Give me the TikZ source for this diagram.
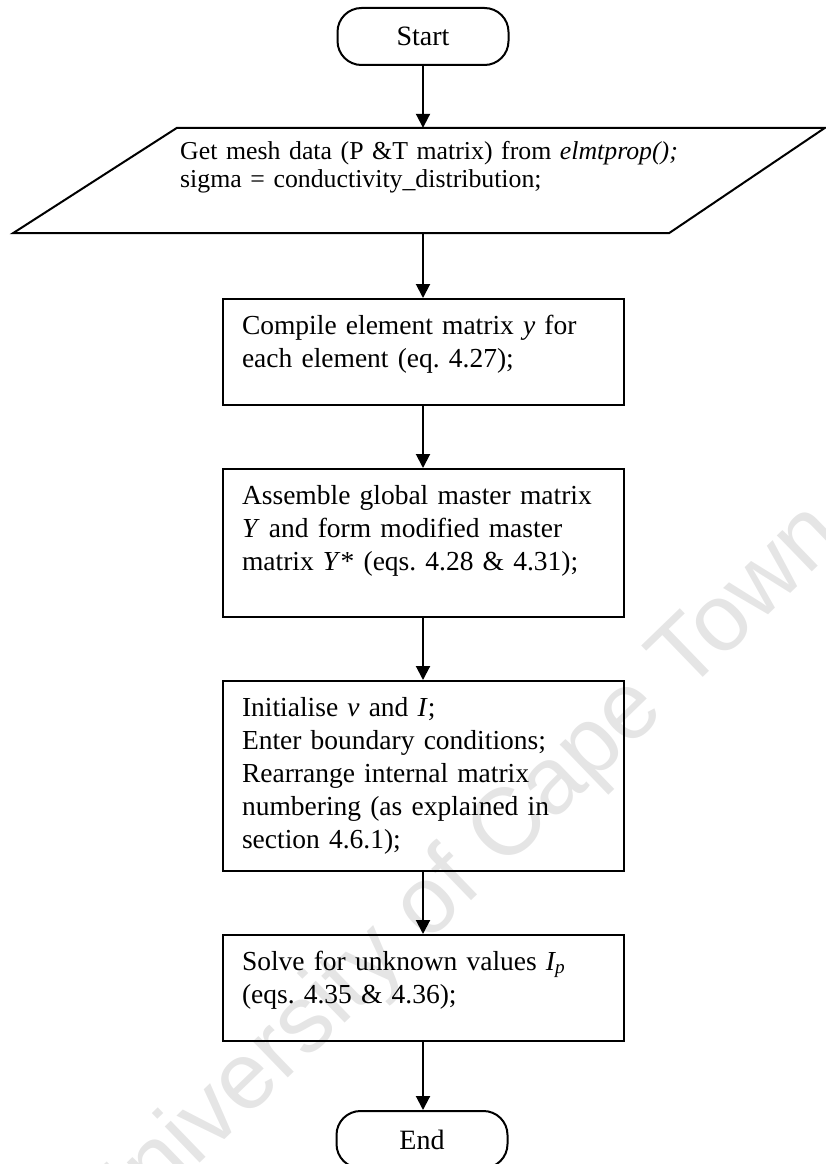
\documentclass[tikz,border=0pt]{standalone}
\usepackage{fontspec}
\setmainfont{Liberation Serif}
\newfontfamily\wmfont{Liberation Sans}
\usetikzlibrary{arrows.meta}
\frenchspacing

\tikzset{
  flowline/.style={line width=2pt, -{Triangle[length=14pt,width=14pt]}},
  termbox/.style={draw, line width=2pt, rounded corners=24pt,
    minimum width=171pt, minimum height=57pt, inner sep=0pt,
    font=\fontsize{28}{33}\selectfont},
  procbox/.style={draw, line width=2pt, anchor=north, inner xsep=19pt, inner ysep=0pt,
    text width=363pt, align=left, text height=35pt,
    font=\fontsize{27.5}{33}\selectfont},
  iotext/.style={anchor=base west, inner sep=0pt, align=left, text width=560pt,
    font=\fontsize{25.8}{28}\selectfont},
  watermark/.style={rotate=44, text=black!10, font=\wmfont\fontsize{95}{95}\selectfont}
}

\begin{document}
\begin{tikzpicture}[x=1pt, y=-1pt]
  \useasboundingbox (0,0) rectangle (826,1164);

  % faint repository watermark behind the chart
  \node[watermark] (wm) at (460,878) {University of Cape Town};

  % terminals
  \node[termbox] (start) at (423,36.5) {Start};
  \node[termbox] (end) at (422,1139.5) {End};

  % input parallelogram
  \node[minimum width=10pt, minimum height=105pt, inner sep=0pt] (io) at (423,180.5) {};
  \draw[line width=2pt, line join=miter]
    ([xshift=-246pt]io.north) -- ([xshift=402pt]io.north) --
    ([xshift=246pt]io.south) -- ([xshift=-410pt]io.south) -- cycle;
  \node[iotext] (iotxt) at (180,159)
    {Get mesh data (P \&T matrix) from \textit{elmtprop();}\\
     sigma = conductivity\_distribution;};

  % process boxes
  \node[procbox, text depth=71pt] (compile) at (423.5,298)
    {Compile element matrix \textit{y} for\\ each element (eq. 4.27);};
  \node[procbox, text depth=113pt] (assemble) at (423.5,468)
    {Assemble global master matrix\\ \textit{Y} and form modified master\\
     matrix \textit{Y}* (eqs. 4.28 \& 4.31);};
  \node[procbox, text depth=155pt] (init) at (423.5,680)
    {Initialise \textit{v} and \textit{I};\\ Enter boundary conditions;\\
     Rearrange internal matrix\\ numbering (as explained in\\ section 4.6.1);};
  \node[procbox, text depth=71pt] (solve) at (423.5,934)
    {Solve for unknown values \textit{I\textsubscript{p}}\\ (eqs. 4.35 \& 4.36);};

  % connectors
  \draw[flowline] (start.south) -- (io.north);
  \draw[flowline] (io.south) -- (compile.north -| io.south);
  \draw[flowline] (compile.south -| io.south) -- (assemble.north -| io.south);
  \draw[flowline] (assemble.south -| io.south) -- (init.north -| io.south);
  \draw[flowline] (init.south -| io.south) -- (solve.north -| io.south);
  \draw[flowline] (solve.south -| io.south) -- (end.north -| io.south);
\end{tikzpicture}
\end{document}
